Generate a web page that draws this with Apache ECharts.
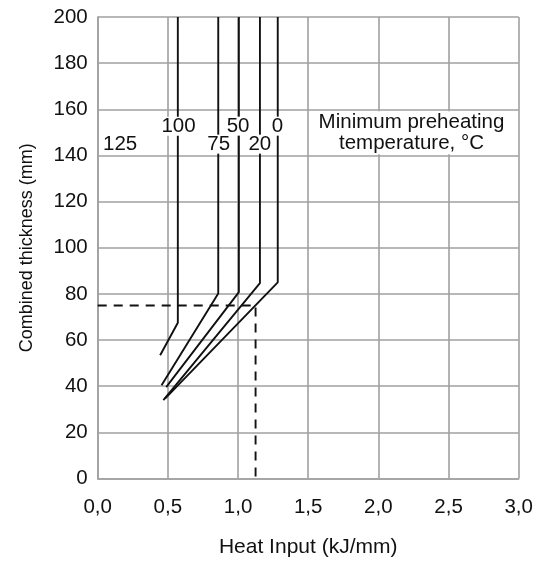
<!DOCTYPE html>
<html>
<head>
<meta charset="utf-8">
<script src="https://cdn.jsdelivr.net/npm/echarts@6/dist/echarts.min.js"></script>
<style>
  html, body { margin: 0; padding: 0; background: #fff; }
  #chart { width: 541px; height: 563px; }
</style>
</head>
<body>
<div id="chart"></div>
<script>
// Axis ranges and ticks
const xMin = 0, xMax = 3.0, xStep = 0.5;
const yMin = 0, yMax = 200, yStep = 20;

// Preheat curves: [heat input kJ/mm, combined thickness mm]
const curve100 = [[0.445, 53.4], [0.571, 67.5], [0.571, 200]];
const curve75  = [[0.455, 40.4], [0.859, 80.2], [0.859, 200]];
const curve50  = [[0.488, 39.6], [1.006, 80.8], [1.006, 200]];
const curve20  = [[0.468, 34.0], [1.156, 84.7], [1.156, 200]];
const curve0   = [[0.480, 34.6], [1.283, 85.0], [1.283, 200]];

// Example reading: 75 mm combined thickness, 1.125 kJ/mm
const guide = [[0, 75], [1.125, 75], [1.125, 0]];

// Temperature labels (°C) and where they sit
const tempNames = ['125', '100', '75', '50', '20', '0'];
const tempX     = [0.16, 0.576, 0.862, 1.0, 1.155, 1.281];
const tempY     = [144.9, 152.7, 144.9, 152.7, 144.9, 152.7];

const noteText = 'Minimum preheating\ntemperature, °C';
const notePos = [2.236, 149.8];

const FONT = '"Liberation Sans", Arial, Helvetica, sans-serif';
const GRID_COLOR = '#a0a0a0';
const INK = '#111';
const TEXT_SIZE = 20.5;

const chart = echarts.init(document.getElementById('chart'), null, { renderer: 'canvas' });

function curveSeries(data) {
  return {
    type: 'line',
    data: data,
    symbol: 'none',
    z: 3,
    lineStyle: { color: INK, width: 1.9 },
    silent: true
  };
}

const labelData = tempNames.map((t, i) => [tempX[i], tempY[i], t]);

chart.setOption({
  animation: false,
  backgroundColor: '#fff',
  grid: { left: 97.7, right: 22.3, top: 17, bottom: 83.5, containLabel: false },
  xAxis: {
    type: 'value',
    min: xMin, max: xMax, interval: xStep,
    name: 'Heat Input (kJ/mm)',
    nameLocation: 'middle',
    nameGap: 58.5,
    nameTextStyle: { fontFamily: FONT, fontSize: 21, color: INK },
    axisLine: { show: true, lineStyle: { color: GRID_COLOR, width: 1.6 } },
    axisTick: { show: false },
    axisLabel: {
      margin: 18.5,
      fontFamily: FONT, fontSize: TEXT_SIZE, color: INK,
      formatter: v => v.toFixed(1).replace('.', ',')
    },
    splitLine: { show: true, lineStyle: { color: GRID_COLOR, width: 1.6 } }
  },
  yAxis: {
    type: 'value',
    min: yMin, max: yMax, interval: yStep,
    name: 'Combined thickness (mm)',
    nameLocation: 'middle',
    nameGap: 62,
    nameTextStyle: { fontFamily: FONT, fontSize: 18, color: INK },
    axisLine: { show: true, lineStyle: { color: GRID_COLOR, width: 1.6 } },
    axisTick: { show: false },
    axisLabel: { margin: 10, fontFamily: FONT, fontSize: TEXT_SIZE, color: INK },
    splitLine: { show: true, lineStyle: { color: GRID_COLOR, width: 1.6 } }
  },
  series: [
    curveSeries(curve100),
    curveSeries(curve75),
    curveSeries(curve50),
    curveSeries(curve20),
    curveSeries(curve0),
    {
      type: 'line',
      data: guide,
      symbol: 'none',
      z: 3,
      silent: true,
      lineStyle: { color: INK, width: 1.9, type: [9, 7] }
    },
    {
      type: 'scatter',
      data: labelData,
      symbolSize: 0,
      z: 10,
      silent: true,
      itemStyle: { opacity: 1 },
      label: {
        show: true,
        position: 'inside',
        formatter: p => p.value[2],
        fontFamily: FONT, fontSize: TEXT_SIZE, color: INK,
        lineHeight: 18,
        backgroundColor: '#fff',
        padding: [1, 1, 0, 1]
      }
    },
    {
      type: 'scatter',
      data: [[notePos[0], notePos[1], noteText]],
      symbolSize: 0,
      z: 10,
      silent: true,
      itemStyle: { opacity: 1 },
      label: {
        show: true,
        position: 'inside',
        align: 'center',
        formatter: p => p.value[2],
        fontFamily: FONT, fontSize: TEXT_SIZE, color: INK,
        lineHeight: 21.5,
        backgroundColor: '#fff',
        padding: [0, 3]
      }
    }
  ]
});
</script>
</body>
</html>
